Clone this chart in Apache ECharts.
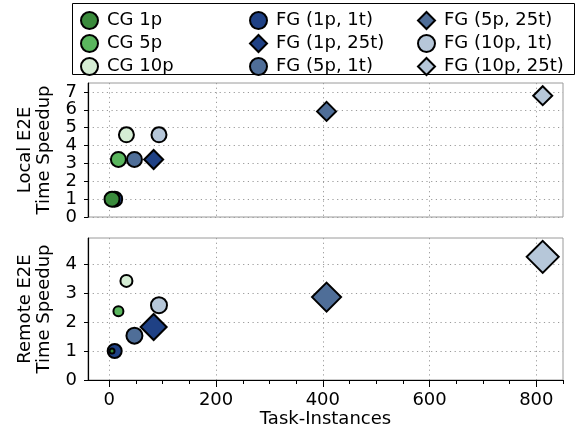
<!DOCTYPE html>
<html>
<head>
<meta charset="utf-8">
<script src="https://cdn.jsdelivr.net/npm/echarts@6/dist/echarts.min.js"></script>
<style>html,body{margin:0;padding:0;background:#fff;}#c{width:580px;height:434px;}</style>
</head>
<body>
<div id="c"></div>
<script>
// ---- data ----
const seriesNames = ['CG 1p','CG 5p','CG 10p','FG (1p, 1t)','FG (1p, 25t)','FG (5p, 1t)','FG (5p, 25t)','FG (10p, 1t)','FG (10p, 25t)'];
const taskInstances = [5, 17, 32, 10, 83, 47, 407, 93, 812];
const localSpeedup  = [1.0, 3.22, 4.6, 1.0, 3.22, 3.22, 5.91, 4.6, 6.79];
const remoteSpeedup = [1.0, 2.37, 3.42, 1.0, 1.83, 1.53, 2.86, 2.58, 4.25];
const xTickLabels = [0, 200, 400, 600, 800];
const xMinorTicks = [0,50,100,150,200,250,300,350,400,450,500,550,600,650,700,750,800,850];
const localYTicks = [0,1,2,3,4,5,6,7];
const remoteYTicks = [0,1,2,3,4];

// ---- styles ----
const styles = {
  'CG 1p':         {color:'#3a8b3c', symbol:'circle',  local:15, remote:5},
  'CG 5p':         {color:'#5ab65e', symbol:'circle',  local:15, remote:10},
  'CG 10p':        {color:'#d5edd4', symbol:'circle',  local:15, remote:12},
  'FG (1p, 1t)':   {color:'#1f4185', symbol:'circle',  local:15, remote:14},
  'FG (1p, 25t)':  {color:'#1f4185', symbol:'diamond', local:19, remote:26},
  'FG (5p, 1t)':   {color:'#4f6e98', symbol:'circle',  local:15, remote:16},
  'FG (5p, 25t)':  {color:'#4f6e98', symbol:'diamond', local:19, remote:29},
  'FG (10p, 1t)':  {color:'#b6c7d9', symbol:'circle',  local:15, remote:16},
  'FG (10p, 25t)': {color:'#b6c7d9', symbol:'diamond', local:19, remote:32}
};
const drawOrder = ['FG (1p, 1t)','CG 1p','CG 5p','CG 10p','FG (5p, 1t)','FG (10p, 1t)','FG (1p, 25t)','FG (5p, 25t)','FG (10p, 25t)'];

const FONT = '"DejaVu Sans", Verdana, sans-serif';
const FS = 18;
const GRIDC = '#9a9a9a';
const series = [];
drawOrder.forEach(name => {
  const i = seriesNames.indexOf(name);
  const st = styles[name];
  const item = {color: st.color, borderColor:'#000', borderWidth:2, opacity:1};
  series.push({type:'scatter', name, xAxisIndex:0, yAxisIndex:0, symbol:st.symbol, symbolSize:st.local,
    itemStyle:item, data:[[taskInstances[i], localSpeedup[i]]], emphasis:{disabled:true}, animation:false});
  series.push({type:'scatter', name, xAxisIndex:1, yAxisIndex:1, symbol:st.symbol, symbolSize:st.remote,
    itemStyle:item, data:[[taskInstances[i], remoteSpeedup[i]]], emphasis:{disabled:true}, animation:false});
});

function legend(left, names){
  return {orient:'vertical', left, top:11, padding:0, itemGap:4, itemWidth:17, itemHeight:17,
    selectedMode:false, data:names,
    textStyle:{fontSize:FS, lineHeight:17, color:'#000', fontFamily:FONT, padding:[0,0,0,4]}};
}
const dotted = {show:true, lineStyle:{color:GRIDC, type:[1.2,3.5], width:1}};

const option = {
  animation:false,
  textStyle:{fontFamily:FONT},
  graphic:[{type:'rect', shape:{x:72.5, y:3.5, width:502, height:71},
    style:{fill:'none', stroke:'#000', lineWidth:1}, z:100}],
  legend:[
    legend(80, seriesNames.slice(0,3)),
    legend(249, seriesNames.slice(3,6)),
    legend(417, seriesNames.slice(6,9))
  ],
  grid:[
    {left:88, right:17, top:83, height:134, show:true, borderColor:GRIDC, borderWidth:1, containLabel:false},
    {left:88, right:17, top:238, height:142, show:true, borderColor:GRIDC, borderWidth:1, containLabel:false}
  ],
  xAxis:[
    {type:'value', gridIndex:0, min:-40, max:850, axisLine:{show:false, onZero:false}, axisTick:{show:false,customValues:xTickLabels},
      axisLabel:{show:false, customValues:xTickLabels}, splitLine:dotted},
    {type:'value', gridIndex:1, position:'bottom', min:-40, max:850,
      axisLine:{show:true, onZero:false, lineStyle:{color:'#000', width:1.2}},
      axisTick:{show:true, inside:false, length:4, customValues:xMinorTicks, lineStyle:{color:'#000'}},
      axisLabel:{show:true, customValues:xTickLabels, margin:11, fontSize:FS, color:'#000', fontFamily:FONT},
      splitLine:{show:false},
      name:'Task-Instances', nameLocation:'middle', nameGap:30,
      nameTextStyle:{fontSize:FS, color:'#000', fontFamily:FONT}},
    {type:'value', gridIndex:1, position:'bottom', min:-40, max:850,
      axisLine:{show:false, onZero:false},
      axisTick:{show:true, inside:false, length:7, customValues:xTickLabels, lineStyle:{color:'#000'}},
      axisLabel:{show:false, customValues:xTickLabels},
      splitLine:dotted}
  ],
  yAxis:[
    {type:'value', gridIndex:0, min:0, max:7.5, interval:1,
      axisLine:{show:true, onZero:false, lineStyle:{color:'#000', width:1.2}},
      axisTick:{show:true, inside:false, length:4, customValues:localYTicks, lineStyle:{color:'#000'}},
      axisLabel:{customValues:localYTicks, margin:11, fontSize:FS, color:'#000', fontFamily:FONT},
      splitLine:dotted,
      name:'Local E2E\nTime Speedup', nameLocation:'middle', nameGap:34,
      nameTextStyle:{fontSize:FS, lineHeight:19, color:'#000', fontFamily:FONT}},
    {type:'value', gridIndex:1, min:0, max:4.9, interval:1,
      axisLine:{show:true, onZero:false, lineStyle:{color:'#000', width:1.2}},
      axisTick:{show:true, inside:false, length:4, customValues:remoteYTicks, lineStyle:{color:'#000'}},
      axisLabel:{customValues:remoteYTicks, margin:11, fontSize:FS, color:'#000', fontFamily:FONT},
      splitLine:dotted,
      name:'Remote E2E\nTime Speedup', nameLocation:'middle', nameGap:34,
      nameTextStyle:{fontSize:FS, lineHeight:19, color:'#000', fontFamily:FONT}}
  ],
  series
};
const chart = echarts.init(document.getElementById('c'), null, {renderer:'canvas'});
chart.setOption(option);
</script>
</body>
</html>
